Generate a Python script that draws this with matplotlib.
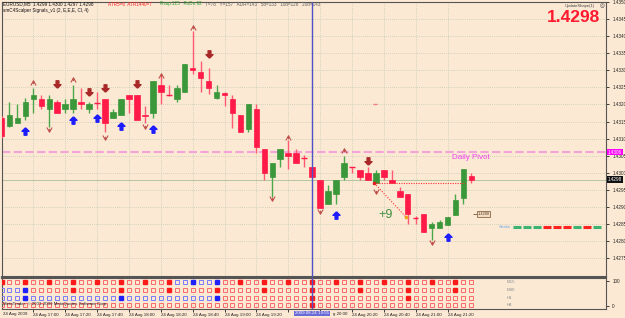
import numpy as np
import matplotlib.pyplot as plt
from matplotlib.patches import Rectangle
from matplotlib.path import Path
from matplotlib.transforms import blended_transform_factory

plt.rcParams['font.family'] = ['Liberation Sans', 'DejaVu Sans']

# EURUSD M5, bar 0 = 24 Aug 16:45 (bar -1 is cut by the left edge)
opens = [1.43159, 1.43136, 1.43147, 1.43165, 1.43217, 1.43217, 1.43188, 1.43208, 1.43188, 1.43188,
         1.43208, 1.43188, 1.43206, 1.43217, 1.43159, 1.43168, 1.43229, 1.43229, 1.43170, 1.43176,
         1.43258, 1.43229, 1.43217, 1.43238, 1.43308, 1.43296, 1.43270, 1.43220, 1.43235, 1.43217,
         1.43168, 1.43127, 1.43188, 1.43069, 1.42987, 1.43039, 1.43057, 1.43057, 1.43045, 1.43016,
         1.42978, 1.42908, 1.42937, 1.42987, 1.43016, 1.43007, 1.42999, 1.42969, 1.43007, 1.42978,
         1.42946, 1.42937, 1.42868, 1.42879, 1.42838, 1.42838, 1.42847, 1.42876, 1.42926, 1.4299]
highs = [1.43165, 1.43208, 1.43200, 1.43220, 1.43249, 1.43229, 1.43229, 1.43214, 1.43217, 1.43258,
         1.43249, 1.43208, 1.43238, 1.43217, 1.43188, 1.43217, 1.43229, 1.43229, 1.43197, 1.43270,
         1.43290, 1.43258, 1.43258, 1.43319, 1.43415, 1.43328, 1.43308, 1.43258, 1.43238, 1.43229,
         1.43168, 1.43200, 1.43200, 1.43069, 1.43028, 1.43069, 1.43095, 1.43069, 1.43051, 1.43016,
         1.42978, 1.42964, 1.42978, 1.43048, 1.43016, 1.43007, 1.43016, 1.43007, 1.43007, 1.43007,
         1.42958, 1.42937, 1.42873, 1.42879, 1.42856, 1.42862, 1.42870, 1.42937, 1.43010, 1.4300]
lows = [1.43103, 1.43133, 1.43147, 1.43156, 1.43176, 1.43188, 1.43133, 1.43176, 1.43176, 1.43176,
        1.43188, 1.43176, 1.43188, 1.43118, 1.43159, 1.43168, 1.43176, 1.43156, 1.43147, 1.43159,
        1.43200, 1.43226, 1.43208, 1.43238, 1.43290, 1.43238, 1.43232, 1.43217, 1.43197, 1.43130,
        1.43118, 1.43118, 1.43057, 1.42978, 1.42929, 1.43016, 1.43010, 1.43028, 1.43016, 1.42987,
        1.42897, 1.42908, 1.42908, 1.42978, 1.42999, 1.42978, 1.42978, 1.42969, 1.42978, 1.42969,
        1.42929, 1.42850, 1.42850, 1.42827, 1.42803, 1.42838, 1.42847, 1.42876, 1.42908, 1.4297]
closes = [1.43109, 1.43168, 1.43159, 1.43208, 1.43229, 1.43197, 1.43217, 1.43176, 1.43200, 1.43217,
          1.43200, 1.43200, 1.43203, 1.43147, 1.43179, 1.43217, 1.43217, 1.43156, 1.43165, 1.43270,
          1.43238, 1.43227, 1.43249, 1.43319, 1.43302, 1.43278, 1.43249, 1.43238, 1.43229, 1.43176,
          1.43118, 1.43200, 1.43077, 1.42999, 1.43028, 1.43069, 1.43048, 1.43028, 1.43042, 1.42987,
          1.42897, 1.42946, 1.42978, 1.43028, 1.43016, 1.42987, 1.42978, 1.42999, 1.42987, 1.42969,
          1.42929, 1.42879, 1.42866, 1.42827, 1.42850, 1.42856, 1.42870, 1.42920, 1.43010, 1.4298]

# signal arrows (bar index, price)
buy_idx = [2, 8, 11, 14, 18, 41, 55]
buy_px = [1.43121, 1.43156, 1.43159, 1.43136, 1.43127, 1.42876, 1.42812]
sell_idx = [6, 10, 12, 16, 25, 45]
sell_px = [1.43261, 1.43238, 1.43249, 1.43261, 1.43348, 1.43036]
top_idx = [3, 8, 19, 23, 35, 42]
top_px = [1.43264, 1.43273, 1.43284, 1.43424, 1.43103, 1.43063]
bot_idx = [5, 12, 17, 33, 39, 46, 53]
bot_px = [1.43127, 1.43106, 1.43136, 1.42926, 1.42888, 1.42946, 1.42797]

pivot = 1.4306
trade_open = (45.8, 1.4297)
trade_close = (49.8, 1.4287)
trade_close_label = 1.4288
snake_px = 1.4284
snake_cols = ['g', 'g', 'g', 'r', 'r', 'r', 'g', 'r', 'g']

# '' = hidden behind the highlighted time box
time_labels = ['24 Aug 17:00', '24 Aug 17:20', '24 Aug 17:40', '24 Aug 18:00', '24 Aug 18:20',
               '24 Aug 18:40', '24 Aug 19:00', '24 Aug 19:20', '', '', '24 Aug 20:20',
               '24 Aug 20:40', '24 Aug 21:00', '24 Aug 21:20']
price_ticks = [1.4275, 1.4280, 1.4285, 1.4290, 1.4295, 1.4300, 1.4305, 1.4310,
               1.4315, 1.4320, 1.4325, 1.4330, 1.4335, 1.4340, 1.4345, 1.4350]
cur_bar = 38

# multi timeframe boxes, one char per bar from -1: r/b hollow, R/B filled
tf_names = ['M15', 'M30', 'H1', 'H4']
tf_rows = [
    'RrrRrrRrrRrrRrrRrrRrrRbbBbbBrrRrrRrrRrrRrrRrrRrrRrrRrrRrrRrr',
    'bbbBrrrrrRrrrrrRrrrrrRrrrrrRrrrrrRrrrrrRrrrrrRrrrrrRrrrrrRrr',
    'bbbBbbbbbbbbbbbBbbbbbbbbbbbBrrrrrrrrrrrRrrrrrrrrrrrRrrrrrrrr',
    'rrrrrrrrrrrrrrrrrrrrrrrrrrrrrrrrrrrrrrrRrrrrrrrrrrrrrrrrrrrr',
]

BG = '#fce9d4'
GRID = '#c5cbb2'
GREEN = '#3a973a'
RED = '#ff1a48'
W, H = 625, 318


def box(x0, y0, x1, y1):
    return [x0 / W, 1 - y1 / H, (x1 - x0) / W, (y1 - y0) / H]


def ftext(x, y, s, **kw):
    kw.setdefault('va', 'center')
    kw.setdefault('fontsize', 3.3)
    fig.text(x / W, 1 - y / H, s, **kw)


fig = plt.figure(figsize=(6.25, 3.18), dpi=100, facecolor=BG)
ax = fig.add_axes(box(2, 2, 606, 277), facecolor=BG)
sub = fig.add_axes(box(2, 278, 606, 309), facecolor=BG)

x0 = -0.94
x1 = 74.9
bars = np.arange(-1, len(opens) - 1)
tick_pos = [3 + 4 * i for i in range(len(time_labels))]

# grid
for a in (ax, sub):
    a.set_xlim(x0, x1)
    for t in tick_pos:
        a.axvline(t, color=GRID, lw=0.6, ls=(0, (1, 1.5)), zorder=0)
for p in price_ticks:
    ax.axhline(p, color=GRID, lw=0.6, ls=(0, (1, 1.5)), zorder=0)

ax.set_ylim(1.42695, 1.43497)

# pivot and bid line
ax.axhline(pivot, color='#f4a3d8', lw=1.5, dashes=(4, 1.6), zorder=1)
ax.axhline(closes[-1], color='#b5c5a0', lw=0.7, zorder=1)
ax.text(55.6, 1.43045, 'Daily Pivot', color='#ee3fee', fontsize=5.8, va='center')

# candles
for b, o, h, l, c in zip(bars, opens, highs, lows, closes):
    col = GREEN if c > o else RED
    wick = '#4aa84a' if c > o else '#ff5a72'
    ax.vlines(b, l, h, color=wick, lw=1, zorder=3)
    if abs(c - o) < 0.00004:
        ax.hlines((o + c) / 2, b - 0.35, b + 0.35, color=col, lw=1, zorder=4)
    else:
        ax.add_patch(Rectangle((b - 0.35, min(o, c)), 0.7, abs(c - o),
                               fc=col, ec=col, lw=0.5, zorder=4))

# markers
up_arrow = [(0, 1), (-0.95, 0.05), (-0.38, 0.05), (-0.38, -1), (0.38, -1),
            (0.38, 0.05), (0.95, 0.05), (0, 1)]
down_arrow = [(px, -py) for px, py in up_arrow]
up_mark = Path([(-0.8, -0.6), (0, 0.8), (0.8, -0.6), (0, 0.8), (0, -0.2)],
               [Path.MOVETO, Path.LINETO, Path.LINETO, Path.MOVETO, Path.LINETO])
down_mark = Path([(-0.8, 0.6), (0, -0.8), (0.8, 0.6), (0, -0.8), (0, 0.2)],
                 [Path.MOVETO, Path.LINETO, Path.LINETO, Path.MOVETO, Path.LINETO])
ax.plot(buy_idx, buy_px, ls='none', marker=up_arrow, ms=5.3, color='#1c1cff', zorder=5)
ax.plot(sell_idx, sell_px, ls='none', marker=down_arrow, ms=5.3, color='#a82828', zorder=5)
ax.plot(top_idx, top_px, ls='none', marker=up_mark, ms=3.8, mfc='none', mec='#c0504a', mew=0.8, zorder=5)
ax.plot(bot_idx, bot_px, ls='none', marker=down_mark, ms=3.8, mfc='none', mec='#c0504a', mew=0.8, zorder=5)

# trade lines
ax.plot([trade_open[0], 57.2], [trade_open[1], trade_open[1]], color='#ff3030', lw=0.8,
        ls=(0, (1, 1.2)), zorder=5)
ax.plot([trade_open[0], trade_close[0]], [trade_open[1], trade_close[1]], color='#ff3030',
        lw=0.8, ls=(0, (1, 1.5)), zorder=5)
ax.plot(trade_open[0], trade_open[1], marker='s', ms=1.5, color='#e02020', zorder=6)
ax.plot(trade_close[0], trade_close[1], marker='s', ms=1.5, color='#f0a020', zorder=6)
ax.hlines(1.4320, 45.6, 46.2, color='#f08080', lw=1, zorder=5)
ax.text(46.3, 1.42876, '+9', color='#3f8f3f', fontsize=9, va='center')
ax.hlines(trade_close_label, 58.2, 58.7, color='#8a6a4a', lw=0.7)
ax.text(58.75, trade_close_label, f'{trade_close_label:.4f}', fontsize=2.8, va='center',
        color='#5a4030', bbox=dict(fc='#f3dcc0', ec='#8a6a4a', lw=0.6, pad=0.6))

# snake
sx = 63.25
for i, c in enumerate(snake_cols):
    s = sx + i * 1.256
    ax.hlines(snake_px, s, s + 1.0, color='#3cb371' if c == 'g' else '#ff2020', lw=2.2, zorder=5)
ax.text(61.5, snake_px, 'Snake', color='#6aa8e8', fontsize=3.2, va='center')

# current bar line
for a in (ax, sub):
    a.axvline(cur_bar, color='#5050c8', lw=1, zorder=6)

# price axis
ax.yaxis.tick_right()
ax.set_yticks(price_ticks)
ax.set_yticklabels([f'{p:.4f}' for p in price_ticks])
ax.tick_params(axis='y', labelsize=3.3, length=2, width=0.6, pad=2.5, colors='#202020')
ax.tick_params(axis='x', length=0, labelbottom=False)
tr = blended_transform_factory(ax.transAxes, ax.transData)
ax.text(1.003, pivot, f'{pivot:.4f}', transform=tr, fontsize=3.3, color='white', va='center',
        clip_on=False, bbox=dict(fc='#ff00ff', ec='none', pad=0.5), zorder=8)
ax.text(1.003, closes[-1], f'{closes[-1]:.4f}', transform=tr, fontsize=3.3, color='white',
        va='center', clip_on=False, bbox=dict(fc='#111111', ec='none', pad=0.5), zorder=8)

# sub pane boxes
sub.set_ylim(-12, 112)
row_y = [96, 65, 33, 3]
for yy, row in zip(row_y, tf_rows):
    for b, ch in zip(bars, row):
        col = '#ff1a1a' if ch in 'rR' else '#2020ff'
        if ch.isupper():
            sub.plot(b, yy, marker='s', ms=3.4, color=col, mec=col, zorder=3)
        else:
            sub.plot(b, yy, marker='s', ms=3.2, mfc='none', mew=0.7,
                     mec='#ff6a6a' if ch == 'r' else '#7a7aff', zorder=3)
for yy, n in zip(row_y, tf_names):
    sub.text(62.4, yy, n, color='#8c8c8c', fontsize=3.2, va='center')
sub.yaxis.tick_right()
sub.set_yticks([0, 100])
sub.set_yticklabels(['0', '100'])
sub.tick_params(axis='y', labelsize=3.3, length=2, width=0.6, pad=2.5, colors='#202020')
sub.set_xticks(tick_pos)
sub.set_xticklabels(time_labels, ha='left')
sub.tick_params(axis='x', labelsize=3.2, length=2, width=0.6, pad=1, colors='#202020')

for a in (ax, sub):
    for s in a.spines.values():
        s.set_color('#555555')
        s.set_linewidth(0.8)
ax.spines['bottom'].set_linewidth(1.5)
sub.spines['top'].set_linewidth(1.5)

# header texts
ftext(3, 4, f'EURUSD,M5  {opens[-1]:.4f} {highs[-1]:.4f} {lows[-1]:.4f} {closes[-1]:.4f}', color='#111111')
ftext(3, 10.5, 'smC4Scalper Signals_v1 (2, E,E,E, Cl, 4)', color='#111111')
ftext(108, 4, 'ATR5=6  ATR1440=7', color='#ff2020')
ftext(160, 4, 'Rsup:125   RsDn:92', color='#30a030')
ftext(205, 4, 'T=78   Y=157   ADR=143   5d=133   10d=128   20d=143', color='#606060')
ftext(565, 6, 'UpdateShape(1)', color='#404040', fontsize=3)
ftext(602, 6, '◎', color='#404040', fontsize=4, ha='center')
ftext(600, 17.5, f'{closes[-1]:.4f}', color='#ff1a2e', fontsize=12.5, weight='bold', ha='right')
ftext(3, 304, 'MetaTrader, © 2001-2009 MetaQuotes Software Corp.', color='#222222', fontsize=3.2)
ftext(3, 313.5, '24 Aug 2009', color='#202020', fontsize=3.2)
ftext(333, 313.5, 'g 20:00', color='#202020', fontsize=3.2)
fig.text((9.5 + 7.96 * cur_bar) / W, 1 - 313.5 / H, '2009.08.24 19:55', fontsize=3.2,
         color='white', ha='center', va='center', zorder=10,
         bbox=dict(fc='#6a6ad8', ec='none', pad=0.6))

fig.savefig('out.png', dpi=100, facecolor=BG)
